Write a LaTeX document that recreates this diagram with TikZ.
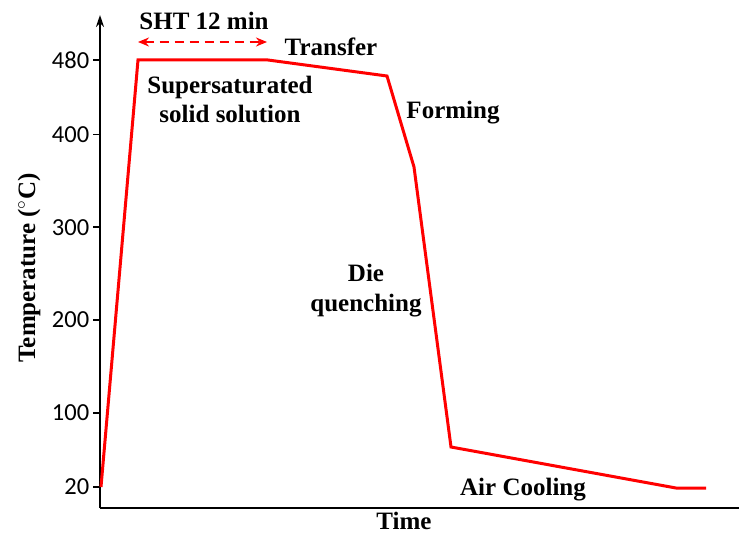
\documentclass[tikz,border=0pt]{standalone}
\usepackage{fontspec}
\setmainfont{Liberation Serif}
\newfontfamily\tickfont{Carlito}
\usetikzlibrary{arrows.meta}
\tikzset{
  lbl/.style={font=\fontsize{25}{27}\selectfont\bfseries, align=center},
  curve/.style={red, line width=3pt, line join=miter},
}
\begin{document}
\begin{tikzpicture}[>=Stealth, x=1pt, y=-1pt]
\useasboundingbox (0,0) rectangle (739,535);
% axes
\coordinate (o) at (100,508);
\coordinate (ytop) at (100,15);
\coordinate (xend) at (739,508);
\draw[line width=2pt, -{Stealth[length=12pt,width=8pt]}] (o)--(ytop);
\draw[line width=2pt] (o)--(xend);
\foreach \t in {20,100,200,300,400,480}
  \draw[line width=1.5pt] (93,{487-(\t-20)*0.928})--(100,{487-(\t-20)*0.928})
    node[left=1pt, font=\tickfont\fontsize{24.5}{26}\selectfont, inner sep=2pt] (tick\t) at (93,{487-(\t-20)*0.928}) {\t};
\node[lbl, rotate=90] (ylabel) at (29,268) {Temperature ($^\circ$C)};
\node[lbl, inner sep=0pt] (xlabel) at (404,521) {Time};
% heat treatment path
\coordinate (p0) at (101,487);
\coordinate (p1) at (138,60);
\coordinate (p2) at (268,60);
\coordinate (p3) at (387,76);
\coordinate (p4) at (414,167);
\coordinate (p5) at (451,447);
\coordinate (p6) at (676,488);
\coordinate (p7) at (706,488);
\draw[curve] (p0)--(p1)--(p2)--(p3)--(p4)--(p5)--(p6)--(p7);
% SHT span
\coordinate (sa) at (138,42);
\coordinate (sb) at (267,42);
\draw[red, line width=2pt, dash pattern=on 9pt off 6pt, {Stealth[length=11pt,width=9pt]}-{Stealth[length=11pt,width=9pt]}] (sa)--(sb);
\node[lbl] (sht) at (204,21) {SHT 12 min};
\node[lbl] (transfer) at (331,47) {Transfer};
\node[lbl] (sss) at (230,99) {Supersaturated\\[2pt]solid solution};
\node[lbl] (forming) at (453,113) {Forming};
\node[lbl] (quench) at (366,291) {Die\\[3pt]quenching};
\node[lbl] (air) at (523,490) {Air Cooling};
\end{tikzpicture}
\end{document}
